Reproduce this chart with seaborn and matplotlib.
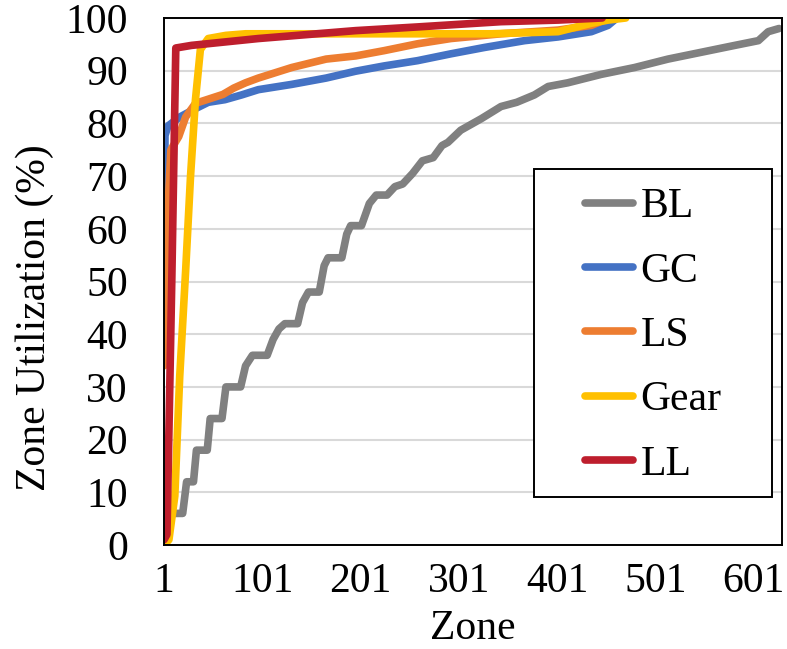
import pandas as pd
import matplotlib
matplotlib.use("Agg")
import matplotlib.pyplot as plt
from matplotlib.patches import Rectangle
import seaborn as sns

# values (zone index, utilization %)
bl_zone = [1, 20, 24, 31, 34, 45, 48, 60, 64, 79, 84, 91, 106, 112, 118, 124, 137, 142, 148, 159,
           164, 168, 182, 187, 191, 202, 210, 217, 228, 236, 244, 254, 264, 275, 284, 290, 303, 324,
           344, 360, 378, 392, 412, 446, 480, 514, 548, 582, 606, 616, 627]
bl_util = [6, 6, 12, 12, 18, 18, 24, 24, 30, 30, 34, 36, 36, 39, 41, 42, 42, 46, 48, 48,
           53, 54.5, 54.5, 59, 60.6, 60.6, 64.8, 66.4, 66.4, 68, 68.5, 70.5, 72.9, 73.5, 75.8, 76.4, 78.7, 80.9,
           83.2, 84, 85.4, 87, 87.7, 89.3, 90.6, 92.2, 93.5, 94.8, 95.7, 97.4, 98]

gc_zone = [1, 2, 5, 17, 33, 46, 63, 80, 97, 131, 166, 196, 225, 259, 293, 327, 368, 402, 436, 453, 462]
gc_util = [40, 77.7, 79.5, 81.2, 82.8, 84, 84.5, 85.4, 86.4, 87.4, 88.6, 89.9, 90.9, 91.9, 93.2, 94.4,
           95.7, 96.4, 97.4, 98.6, 100]

ls_zone = [1, 4, 8, 16, 23, 33, 61, 72, 84, 97, 131, 166, 196, 225, 259, 293, 344, 402, 436, 453, 458]
ls_util = [34, 60, 75, 77.5, 81.2, 83.8, 85.5, 86.7, 87.7, 88.6, 90.6, 92.2, 92.8, 93.8, 95.1, 96.1,
           97, 97.7, 98.6, 99.9, 100]

gear_zone = [1, 6, 12, 17, 23, 28, 33, 38, 46, 64, 84, 200, 334, 402, 436, 453, 471]
gear_util = [0, 1, 9.3, 32, 52, 70, 84.5, 94, 96.1, 96.7, 97, 97, 97, 97.4, 99, 99.6, 100]

ll_zone = [1, 4, 9, 13, 29, 97, 196, 259, 344, 402, 447]
ll_util = [1, 2, 51, 94.3, 94.8, 96.1, 97.6, 98.3, 99.3, 99.6, 100]

series = [
    ("BL", bl_zone, bl_util, "#808080"),
    ("GC", gc_zone, gc_util, "#4472C4"),
    ("LS", ls_zone, ls_util, "#ED7D31"),
    ("Gear", gear_zone, gear_util, "#FFC000"),
    ("LL", ll_zone, ll_util, "#BE1E2D"),
]

sns.set_style("white")
plt.rcParams["font.family"] = ["Liberation Serif", "DejaVu Serif"]
plt.rcParams["text.color"] = "black"
plt.rcParams["axes.labelcolor"] = "black"
plt.rcParams["xtick.color"] = "black"
plt.rcParams["ytick.color"] = "black"

fs = 30

fig, ax = plt.subplots(figsize=(7.87, 6.49), dpi=100)
fig.subplots_adjust(left=0.2084, right=0.9936, top=0.9723, bottom=0.1602)

for name, zone, util, color in series:
    df = pd.DataFrame({"Zone": zone, "Util": util})
    sns.lineplot(data=df, x="Zone", y="Util", ax=ax, color=color, linewidth=5.5,
                 label=name, solid_capstyle="round", solid_joinstyle="round")

ax.set_xlim(1, 630)
ax.set_ylim(0, 100)
ax.set_xticks([1, 101, 201, 301, 401, 501, 601])
ax.set_yticks(range(0, 101, 10))
ax.yaxis.grid(True, color="#D9D9D9", linewidth=1.5)
ax.set_axisbelow(True)

for sp in ax.spines.values():
    sp.set_color("black")
    sp.set_linewidth(1.4)

ax.tick_params(axis="x", direction="out", length=8.6, width=1.2, labelsize=fs, pad=4)
ax.tick_params(axis="y", length=0, labelsize=fs, pad=26)

ax.set_xlabel("Zone", fontsize=fs)
ax.xaxis.set_label_coords(0.5, -0.1214)
ax.set_ylabel("Zone Utilization (%)", fontsize=fs)
ax.yaxis.set_label_coords(-0.178, 0.431)

# legend frame drawn as its own box, entries placed inside it
frame = Rectangle((0.599, 0.091), 0.385, 0.622, transform=ax.transAxes,
                  facecolor="white", edgecolor="black", linewidth=1.4, zorder=4)
ax.add_patch(frame)
leg = ax.legend(loc="upper left", bbox_to_anchor=(0.682, 0.678), fontsize=fs,
                frameon=False, handlelength=1.14, handletextpad=0.18,
                labelspacing=0.62, borderpad=0, borderaxespad=0)
leg.set_zorder(6)

plt.savefig("out.png", dpi=100)
